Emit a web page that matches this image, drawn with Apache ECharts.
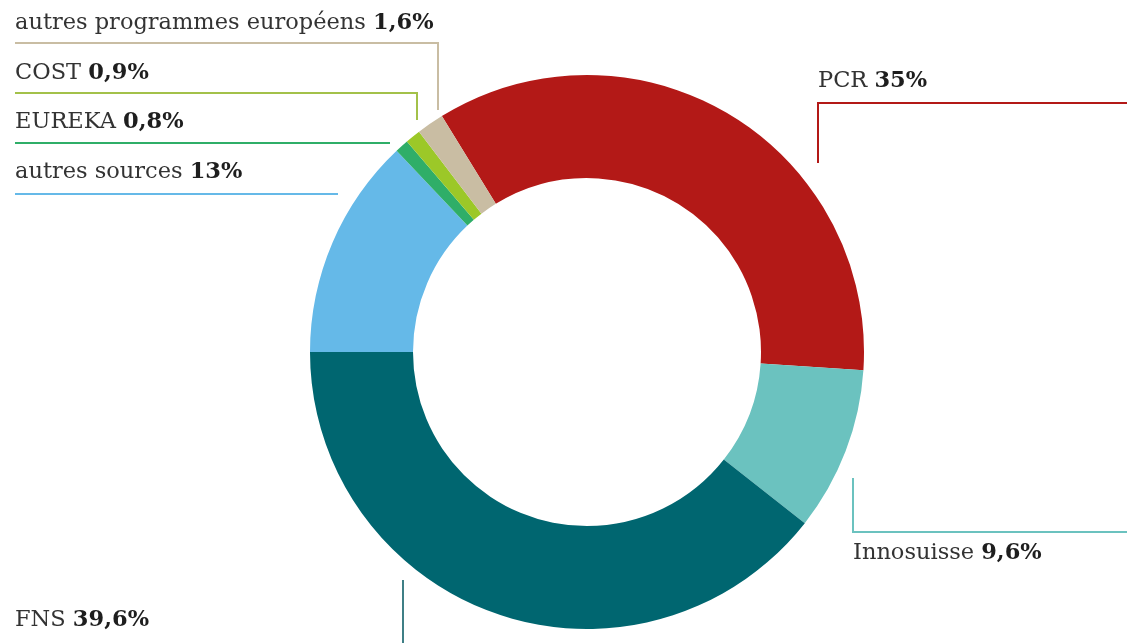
<!DOCTYPE html>
<html>
<head>
<meta charset="utf-8">
<script src="https://cdn.jsdelivr.net/npm/echarts@6/dist/echarts.min.js"></script>
<style>
  html, body { margin: 0; padding: 0; background: #fff; }
  #chart { width: 1127px; height: 643px; }
</style>
</head>
<body>
<div id="chart"></div>
<script>
// données (ordre horaire, à partir du PCR)
const names = ['PCR', 'Innosuisse', 'FNS', 'autres sources', 'EUREKA', 'COST', 'autres programmes européens']
const values = [35, 9.6, 39.6, 13, 0.8, 0.9, 1.6]
const colors = ['#b31917', '#6bc2bf', '#006670', '#65b9e8', '#2fae68', '#9cc828', '#c9bda3']
const lineColors = ['#b31917', '#6bc2bf', '#3f7f86', '#65b9e8', '#2fae68', '#a3c14a', '#c9bda3']

// emplacement des étiquettes et des traits de rappel
const labelPos = [
  { x: 818, y: 81, line: [[818, 163], [818, 103], [1127, 103]] },
  { x: 853, y: 553, line: [[853, 478], [853, 532], [1127, 532]] },
  { x: 15, y: 620, line: [[403, 580], [403, 612], [403, 643]] },
  { x: 15, y: 172, line: [[338, 194], [200, 194], [15, 194]] },
  { x: 15, y: 122, line: [[390, 143], [200, 143], [15, 143]] },
  { x: 15, y: 73, line: [[417, 120], [417, 93], [15, 93]] },
  { x: 15, y: 23, line: [[438, 110], [438, 43], [15, 43]] },
]

const chart = echarts.init(document.getElementById('chart'))
chart.setOption({
  animation: false,
  series: [
    {
      type: 'pie',
      center: [587, 352],
      radius: [174, 277],
      startAngle: 121.6,
      avoidLabelOverlap: false,
      label: {
        position: 'outside',
        fontFamily: 'DejaVu Serif',
        fontSize: 22.5,
        formatter: (p) => '{n|' + p.name + '} {v|' + String(p.value).replace('.', ',') + '%}',
        rich: {
          n: { fontFamily: 'DejaVu Serif', fontSize: 22.5, color: '#333' },
          v: { fontFamily: 'DejaVu Serif', fontSize: 22.5, fontWeight: 'bold', color: '#1e1e1e' },
        },
      },
      labelLine: { show: true, smooth: false, lineStyle: { width: 2 } },
      labelLayout: (params) => {
        const pos = labelPos[params.dataIndex]
        return {
          x: pos.x,
          y: pos.y,
          align: 'left',
          verticalAlign: 'middle',
          labelLinePoints: pos.line,
        }
      },
      data: names.map((name, i) => ({
        name,
        value: values[i],
        itemStyle: { color: colors[i] },
        labelLine: { lineStyle: { color: lineColors[i] } },
      })),
    },
  ],
})
</script>
</body>
</html>
